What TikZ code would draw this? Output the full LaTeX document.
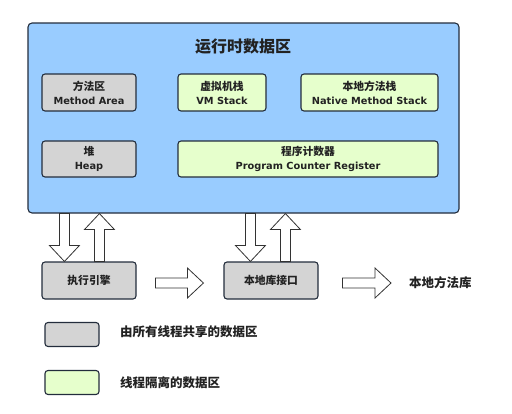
\documentclass[tikz,border=0pt]{standalone}
\usepackage{fontspec}
\setmainfont{DejaVu Sans}
\newfontfamily\cjk{Noto Sans CJK SC}
\usepackage{tikz}
\usetikzlibrary{arrows,calc,positioning}

\definecolor{rtblue}{RGB}{153,204,255}
\definecolor{sharegray}{RGB}{212,212,212}
\definecolor{threadgreen}{RGB}{230,255,204}
\definecolor{edgeline}{RGB}{35,45,60}
\definecolor{inktext}{RGB}{34,34,34}

\newcommand\zh[1]{{\cjk\fontsize{10.8}{14}\selectfont #1}}

\begin{document}
\begin{tikzpicture}[x=1pt,y=-1pt,>=stealth',auto]
		\tikzstyle{area}=[rectangle, rounded corners=3pt, draw=edgeline, line width=1.1pt, minimum height=37pt, align=center, inner sep=0pt, text=inktext, font=\bfseries\fontsize{9.8}{14}\selectfont]
		\tikzstyle{shared}=[area, fill=sharegray]
		\tikzstyle{private}=[area, fill=threadgreen]
		\tikzstyle{legend}=[rectangle, rounded corners=3pt, draw=edgeline, line width=1.1pt, minimum width=54pt, minimum height=24pt]
		\tikzstyle{note}=[anchor=west, inner sep=0pt, text=inktext, font=\cjk\bfseries\fontsize{12.5}{14}\selectfont]
		\tikzstyle{fat}=[draw=black!80, fill=white, line width=0.8pt, to path={let \p1=($(\tikztotarget)!16pt!(\tikztostart)$) in
			($(\tikztostart)!5pt!90:(\tikztotarget)$) -- ($(\p1)!5pt!90:(\tikztotarget)$) -- ($(\p1)!15pt!90:(\tikztotarget)$) -- (\tikztotarget)
			-- ($(\p1)!15pt!-90:(\tikztotarget)$) -- ($(\p1)!5pt!-90:(\tikztotarget)$) -- ($(\tikztostart)!5pt!-90:(\tikztotarget)$) -- cycle}]

		\useasboundingbox (0,0) rectangle (512,413);

		% runtime data area
		\node [rectangle, rounded corners=4pt, draw=edgeline, line width=1.1pt, fill=rtblue, minimum width=431pt, minimum height=190pt] (rt) at (243.5,118) {};
		\node [text=inktext, font=\cjk\bfseries\fontsize{16}{16}\selectfont] (title) at (243,47) {运行时数据区};

		\node [shared, minimum width=94pt] (ma) at (89,92.5) {\zh{方法区}\\Method Area};
		\node [private, minimum width=88pt] (vm) at (222,92.5) {\zh{虚拟机栈}\\VM Stack};
		\node [private, minimum width=137pt] (nm) at (369.5,92.5) {\zh{本地方法栈}\\Native Method Stack};
		\node [shared, minimum width=94pt, minimum height=36pt] (heap) at (89,159) {\zh{堆}\\Heap};
		\node [private, minimum width=260pt, minimum height=36pt] (pc) at (308,159) {\zh{程序计数器}\\Program Counter Register};

		% engine and native interface
		\node [shared, minimum width=94pt] (ee) at (89,280.5) {\zh{执行引擎}};
		\node [shared, minimum width=94pt] (ni) at (271,280.5) {\zh{本地库接口}};
		\node [note] (lib) at (409,283) {本地方法库};

		% legend
		\node [legend, fill=sharegray] (lg1) at (72,334.5) {};
		\node [note] (lt1) at (120,332) {由所有线程共享的数据区};
		\node [legend, fill=threadgreen] (lg2) at (72,382.5) {};
		\node [note] (lt2) at (120,383) {线程隔离的数据区};

		% block arrows
		\path (ee.north west) ++(23,0) coordinate (d1b);
		\coordinate (d1a) at (d1b |- rt.south);
		\path (ee.north west) ++(58,0) coordinate (u1a);
		\coordinate (u1b) at (u1a |- rt.south);
		\path (ni.north west) ++(27,0) coordinate (d2b);
		\coordinate (d2a) at (d2b |- rt.south);
		\path (ni.north west) ++(62,0) coordinate (u2a);
		\coordinate (u2b) at (u2a |- rt.south);
		\path (ee.east) ++(19,2.5) coordinate (r1a);
		\path (ni.west) ++(-20,2.5) coordinate (r1b);
		\path (ni.east) ++(24,2.5) coordinate (r2a);
		\path (lib.west) ++(-18,0) coordinate (r2b);

		\draw [fat] (d1a) to (d1b);
		\draw [fat] (u1a) to (u1b);
		\draw [fat] (d2a) to (d2b);
		\draw [fat] (u2a) to (u2b);
		\draw [fat] (r1a) to (r1b);
		\draw [fat] (r2a) to (r2b);
	\end{tikzpicture}
\end{document}
